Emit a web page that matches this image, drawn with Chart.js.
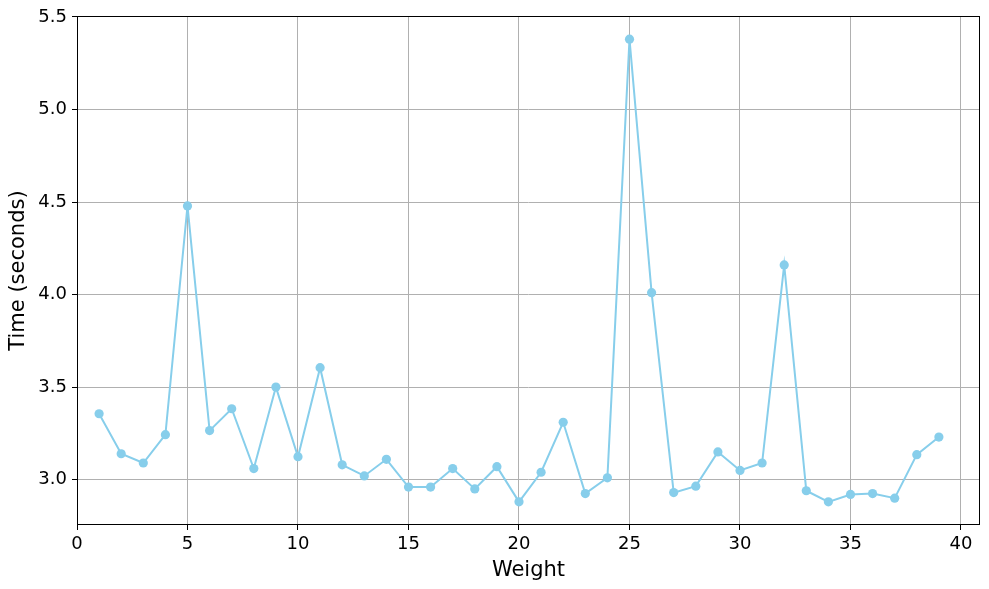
<!DOCTYPE html>
<html>
<head>
<meta charset="utf-8">
<script src="https://cdn.jsdelivr.net/npm/chart.js@4.4.0/dist/chart.umd.min.js"></script>
<style>
html,body{margin:0;padding:0;background:#fff;}
#wrap{width:989px;height:589px;}
</style>
</head>
<body>
<div id="wrap"><canvas id="c" width="989" height="589"></canvas></div>
<script>
const weights = [1,2,3,4,5,6,7,8,9,10,11,12,13,14,15,16,17,18,19,20,21,22,23,24,25,26,27,28,29,30,31,32,33,34,35,36,37,38,39];
const times = [3.356,3.14,3.09,3.243,4.479,3.265,3.383,3.06,3.50,3.124,3.605,3.08,3.02,3.11,2.96,2.96,3.06,2.95,3.07,2.88,3.04,3.31,2.925,3.01,5.38,4.01,2.93,2.965,3.15,3.05,3.09,4.16,2.94,2.88,2.92,2.925,2.90,3.135,3.23];
const xTicks = [0,5,10,15,20,25,30,35,40];
const yTicks = [3.0,3.5,4.0,4.5,5.0,5.5];
const xLabel = 'Weight';
const yLabel = 'Time (seconds)';

const points = weights.map((w,i)=>({x:w,y:times[i]}));

const framePlugin = {
  id:'frame',
  afterDraw(chart){
    const {ctx, chartArea:a} = chart;
    ctx.save();
    ctx.strokeStyle = '#000';
    ctx.lineWidth = 1;
    ctx.strokeRect(Math.round(a.left)+0.5, Math.round(a.top)+0.5, Math.round(a.right-a.left)-1, Math.round(a.bottom-a.top)-1);
    ctx.restore();
  }
};

const font = {family:'DejaVu Sans', size:18};
new Chart(document.getElementById('c'), {
  type:'scatter',
  data:{datasets:[{
    data:points,
    showLine:true,
    borderColor:'#87CEEB',
    backgroundColor:'#87CEEB',
    borderWidth:2,
    pointRadius:4.6,
    pointHoverRadius:4.6,
    pointBorderWidth:0,
    clip:false
  }]},
  options:{
    responsive:false,
    animation:false,
    events:[],
    layout:{padding:{left:0,right:9,top:16,bottom:0}},
    plugins:{legend:{display:false},tooltip:{enabled:false}},
    scales:{
      x:{
        type:'linear', min:0, max:40.86,
        afterBuildTicks(s){ s.ticks = xTicks.map(v=>({value:v})); },
        afterFit(s){ s.height = 64; },
        grid:{color:'#b0b0b0', lineWidth:1, tickLength:5, tickColor:'#000', drawTicks:true},
        border:{display:false},
        ticks:{font, color:'#000', padding:4, maxRotation:0, autoSkip:false, callback:v=>String(v)},
        title:{display:true, text:xLabel, font:{family:'DejaVu Sans', size:21}, color:'#000', padding:{top:0,bottom:6}}
      },
      y:{
        type:'linear', min:2.755, max:5.505,
        afterBuildTicks(s){ s.ticks = yTicks.map(v=>({value:v})); },
        afterFit(s){ s.width = 77; },
        grid:{color:'#b0b0b0', lineWidth:1, tickLength:5, tickColor:'#000'},
        border:{display:false},
        ticks:{font, color:'#000', padding:5, autoSkip:false, callback:v=>Number(v).toFixed(1)},
        title:{display:true, text:yLabel, font:{family:'DejaVu Sans', size:21}, color:'#000', padding:{top:6,bottom:0}}
      }
    }
  },
  plugins:[framePlugin]
});
</script>
</body>
</html>
